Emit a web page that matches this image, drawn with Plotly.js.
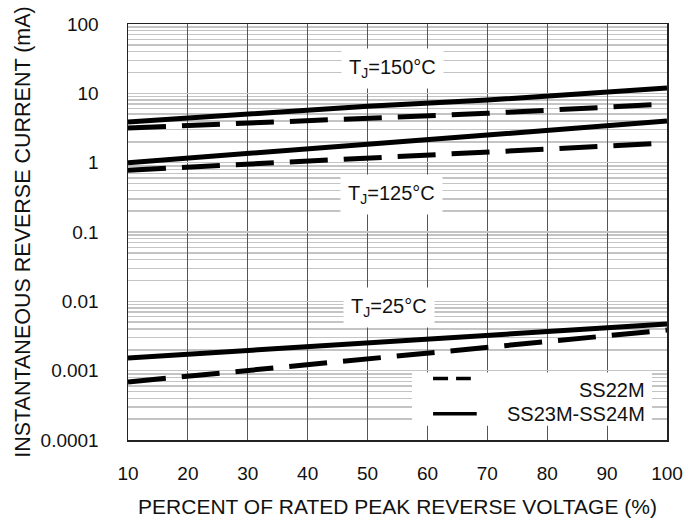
<!DOCTYPE html>
<html>
<head>
<meta charset="utf-8">
<script src="https://cdn.plot.ly/plotly-3.0.1.min.js"></script>
<style>html,body{margin:0;padding:0;background:#fff;}#chart{width:686px;height:524px;}</style>
</head>
<body>
<div id="chart"></div>
<script>
// Percent of rated peak reverse voltage (%)
var xPct = [10, 50, 70, 100];

// Instantaneous reverse current (mA)
var tj150_SS23M_SS24M = [3.86, 6.5, 8.0, 11.9];
var tj150_SS22M       = [3.16, 4.3, 5.15, 7.0];
var tj125_SS23M_SS24M = [1.0, 1.8, 2.5, 4.0];
var tj125_SS22M       = [0.78, 1.18, 1.44, 1.92];
var tj25_SS23M_SS24M  = [0.00152, 0.00253, 0.00334, 0.0047];
var tj25_SS22M        = [0.000686, 0.00146, 0.00221, 0.00386];

var xTickVals = [10, 20, 30, 40, 50, 60, 70, 80, 90, 100];
var yTickVals = [0.0001, 0.001, 0.01, 0.1, 1, 10, 100];
var yTickText = ['0.0001', '0.001', '0.01', '0.1', '1', '10', '100'];

var seriesNames = ['SS22M', 'SS23M-SS24M'];
var tempLabels = ['T<sub>J</sub>=150°C', 'T<sub>J</sub>=125°C', 'T<sub>J</sub>=25°C'];

var FONT = 'Liberation Sans, Arial, Helvetica, sans-serif';
var solidStyle = {color: '#000', width: 5, dash: 'solid'};
var dashStyle = {color: '#000', width: 5, dash: '38px,16px'};

function tr(y, style, name) {
  return {x: xPct, y: y, type: 'scatter', mode: 'lines', line: style,
          name: name, showlegend: false, hoverinfo: 'skip'};
}

var data = [
  tr(tj150_SS23M_SS24M, solidStyle, seriesNames[1]),
  tr(tj150_SS22M, dashStyle, seriesNames[0]),
  tr(tj125_SS23M_SS24M, solidStyle, seriesNames[1]),
  tr(tj125_SS22M, dashStyle, seriesNames[0]),
  tr(tj25_SS23M_SS24M, solidStyle, seriesNames[1]),
  tr(tj25_SS22M, dashStyle, seriesNames[0])
];

function tempAnn(text, x, ylog) {
  return {text: text, x: x, y: ylog, xref: 'x', yref: 'y', showarrow: false,
          bgcolor: '#fff', borderpad: 7, font: {family: FONT, size: 20, color: '#111'}};
}

var annotations = [
  tempAnn(tempLabels[0], 54.2, 1.36),
  tempAnn(tempLabels[1], 54.0, -0.46),
  tempAnn(tempLabels[2], 53.6, -2.09),
  {text: seriesNames[0], xref: 'paper', yref: 'paper', x: 0.962, y: 0.12, xanchor: 'right', yanchor: 'middle',
   showarrow: false, font: {family: FONT, size: 20, color: '#111'}},
  {text: seriesNames[1], xref: 'paper', yref: 'paper', x: 0.962, y: 0.063, xanchor: 'right', yanchor: 'middle',
   showarrow: false, font: {family: FONT, size: 20, color: '#111'}}
];

var shapes = [
  {type: 'rect', xref: 'paper', yref: 'paper', x0: 0.527, x1: 0.972, y0: 0.034, y1: 0.162,
   fillcolor: '#fff', line: {width: 0}, layer: 'above'},
  {type: 'line', xref: 'paper', yref: 'paper', x0: 0.566, x1: 0.636, y0: 0.148, y1: 0.148,
   line: {color: '#000', width: 3.5, dash: '15px,8px'}, layer: 'above'},
  {type: 'line', xref: 'paper', yref: 'paper', x0: 0.566, x1: 0.647, y0: 0.063, y1: 0.063,
   line: {color: '#000', width: 3.5}, layer: 'above'}
];

var layout = {
  width: 686, height: 524,
  margin: {l: 128, r: 19, t: 24, b: 84, pad: 0},
  paper_bgcolor: '#fff', plot_bgcolor: '#fff',
  font: {family: FONT, size: 16, color: '#111'},
  showlegend: false,
  xaxis: {
    type: 'linear', range: [10, 100], tickvals: xTickVals, ticks: '',
    showgrid: true, gridcolor: '#555', gridwidth: 1,
    showline: true, mirror: true, linecolor: '#222', linewidth: 1.5,
    zeroline: false, ticklabelstandoff: 16,
    tickfont: {family: FONT, size: 19, color: '#111'},
    title: {text: 'PERCENT OF RATED PEAK REVERSE VOLTAGE (%)', standoff: 16,
            font: {family: FONT, size: 21, color: '#111'}},
    automargin: false
  },
  yaxis: {
    type: 'log', range: [-4, 2], tickvals: yTickVals, ticktext: yTickText, ticks: '',
    showgrid: true, gridcolor: '#c4c4c4', gridwidth: 1.5,
    minor: {dtick: 'D1', showgrid: true, gridcolor: '#c4c4c4', gridwidth: 1.5, ticks: ''},
    showline: true, mirror: true, linecolor: '#222', linewidth: 1.5,
    zeroline: false, ticklabelstandoff: 24,
    tickfont: {family: FONT, size: 19, color: '#111'},
    title: {text: 'INSTANTANEOUS REVERSE CURRENT (mA)', standoff: 4,
            font: {family: FONT, size: 21.5, color: '#111'}},
    automargin: false
  },
  annotations: annotations,
  shapes: shapes
};

Plotly.newPlot('chart', data, layout, {staticPlot: true, displayModeBar: false});
</script>
</body>
</html>
